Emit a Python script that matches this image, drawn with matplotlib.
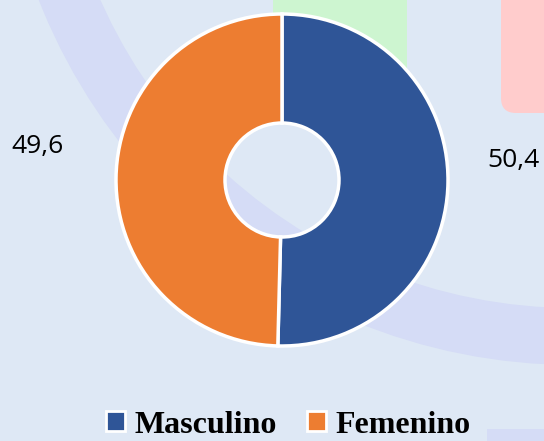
import matplotlib.pyplot as plt
from matplotlib.patches import Wedge, Rectangle, FancyBboxPatch, Patch

# datos
categorias = ['Masculino', 'Femenino']
valores = [50.4, 49.6]
etiquetas = ['50,4', '49,6']
colores = ['#2f5597', '#ed7d31']

fondo = '#dee8f5'

fig = plt.figure(figsize=(5.44, 4.41), dpi=100)
fig.patch.set_facecolor(fondo)
ax = fig.add_axes([0, 0, 1, 1])
ax.set_xlim(0, 544)
ax.set_ylim(0, 441)
ax.set_aspect('equal')
ax.axis('off')

# decoracion de fondo
ax.add_patch(Wedge((574, 651), 575, 0, 360, width=57, facecolor='#d5dcf6', edgecolor='none', zorder=1))
ax.add_patch(Rectangle((273, 330), 134, 120, facecolor='#cdf5d0', edgecolor='none', zorder=1))
ax.add_patch(FancyBboxPatch((501, 328), 80, 130, boxstyle='round,pad=0,rounding_size=15',
                            facecolor='#ffcccc', edgecolor='none', zorder=1))
ax.add_patch(Rectangle((487, -5), 80, 17, facecolor='#d5dcf6', edgecolor='none', zorder=1))

# dona
wedges, _ = ax.pie(valores, colors=colores, startangle=90, counterclock=False,
                   center=(282, 261), radius=166, frame=True,
                   wedgeprops=dict(width=166 - 57, edgecolor='white', linewidth=2.5))
for w in wedges:
    w.set_zorder(3)
ax.set_xlim(0, 544)
ax.set_ylim(0, 441)
ax.axis('off')

# etiquetas de valores
ax.text(513, 281, etiquetas[0], fontsize=19, family='Open Sans', ha='center', va='center', color='black', zorder=4)
ax.text(37, 295, etiquetas[1], fontsize=19, family='Open Sans', ha='center', va='center', color='black', zorder=4)

# leyenda
handles = [Patch(facecolor=c, edgecolor='white', linewidth=2) for c in colores]
leg = fig.legend(handles, categorias, loc='lower center', bbox_to_anchor=(0.53, -0.062), ncol=2,
                 frameon=False, handlelength=0.6, handleheight=0.6, handletextpad=0.28,
                 columnspacing=0.95, prop=dict(family='Liberation Serif', weight='bold', size=23))

fig.savefig('out.png', dpi=100, facecolor=fondo)
